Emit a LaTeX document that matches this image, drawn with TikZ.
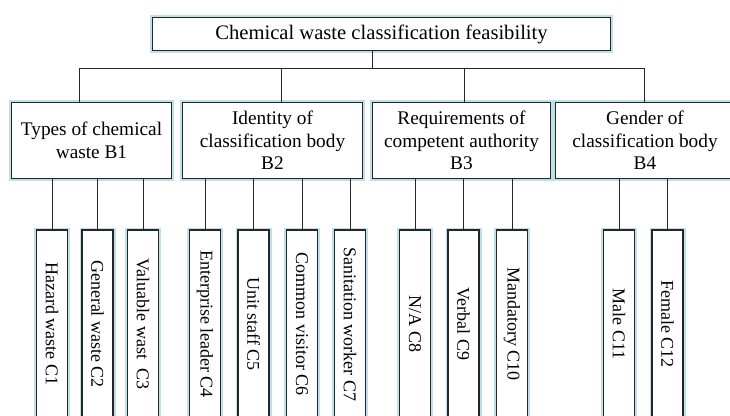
\documentclass[tikz,border=0pt]{standalone}
\usepackage{fontspec}
\setmainfont{Liberation Serif}
\definecolor{glowblue}{RGB}{188,224,236}
\tikzset{
  box/.style={draw=black!85,line width=1.1pt,fill=white,inner sep=2pt,align=center,
    preaction={draw=glowblue,line width=5pt}},
  rootbox/.style={box,minimum width=458pt,minimum height=33pt,font=\fontsize{20.6}{24}\selectfont},
  critbox/.style={box,minimum height=76pt,font=\fontsize{19.3}{22.5}\selectfont},
  leafbox/.style={box,rotate=-90,minimum width=188pt,minimum height=31pt,font=\fontsize{18}{21}\selectfont},
  conn/.style={draw=black!85,line width=1pt},
}

\begin{document}
\begin{tikzpicture}[x=1pt,y=-1pt]
        \useasboundingbox (0,0) rectangle (730,415);
        \node[rootbox] (root) at (381.5,34) {Chemical waste classification feasibility};

        \node[critbox,minimum width=160pt] (b1) at (91.5,140.5) {Types of chemical\\waste B1};
        \node[critbox,minimum width=180pt] (b2) at (272.5,140.5) {Identity of\\classification body\\B2};
        \node[critbox,minimum width=178pt] (b3) at (461.5,140.5) {Requirements of\\competent authority\\B3};
        \node[critbox,minimum width=179pt] (b4) at (645,140.5) {Gender of\\classification body\\B4};

        \node[leafbox] (c1) at (52,324) {Hazard waste C1};
        \node[leafbox] (c2) at (97.5,324) {General waste C2};
        \node[leafbox] (c3) at (143,324) {Valuable wast\ \ C3};
        \node[leafbox] (c4) at (205,324) {Enterprise leader C4};
        \node[leafbox] (c5) at (253.5,324) {Unit staff C5};
        \node[leafbox] (c6) at (302,324) {Common visitor C6};
        \node[leafbox] (c7) at (350,324) {Sanitation worker C7};
        \node[leafbox] (c8) at (415,324) {N/A C8};
        \node[leafbox] (c9) at (463.5,324) {Verbal C9};
        \node[leafbox] (c10) at (512,324) {Mandatory C10};
        \node[leafbox] (c11) at (619,324) {Male C11};
        \node[leafbox] (c12) at (667.5,324) {Female C12};

        \coordinate (j0) at (372,68);
        \coordinate (j1) at (79,68);
        \coordinate (j2) at (281,68);
        \coordinate (j3) at (464,68);
        \coordinate (j4) at (644,68);

        \path[conn]
            (root.south -| j0) edge (j0)
            (j1) edge (j4)
            (j1) edge (j1 |- b1.north)
            (j2) edge (j2 |- b2.north)
            (j3) edge (j3 |- b3.north)
            (j4) edge (j4 |- b4.north);
        \path[conn]
            (c1.west) edge (c1.west |- b1.south)
            (c2.west) edge (c2.west |- b1.south)
            (c3.west) edge (c3.west |- b1.south)
            (c4.west) edge (c4.west |- b2.south)
            (c5.west) edge (c5.west |- b2.south)
            (c6.west) edge (c6.west |- b2.south)
            (c7.west) edge (c7.west |- b2.south)
            (c8.west) edge (c8.west |- b3.south)
            (c9.west) edge (c9.west |- b3.south)
            (c10.west) edge (c10.west |- b3.south)
            (c11.west) edge (c11.west |- b4.south)
            (c12.west) edge (c12.west |- b4.south);
    \end{tikzpicture}
\end{document}
